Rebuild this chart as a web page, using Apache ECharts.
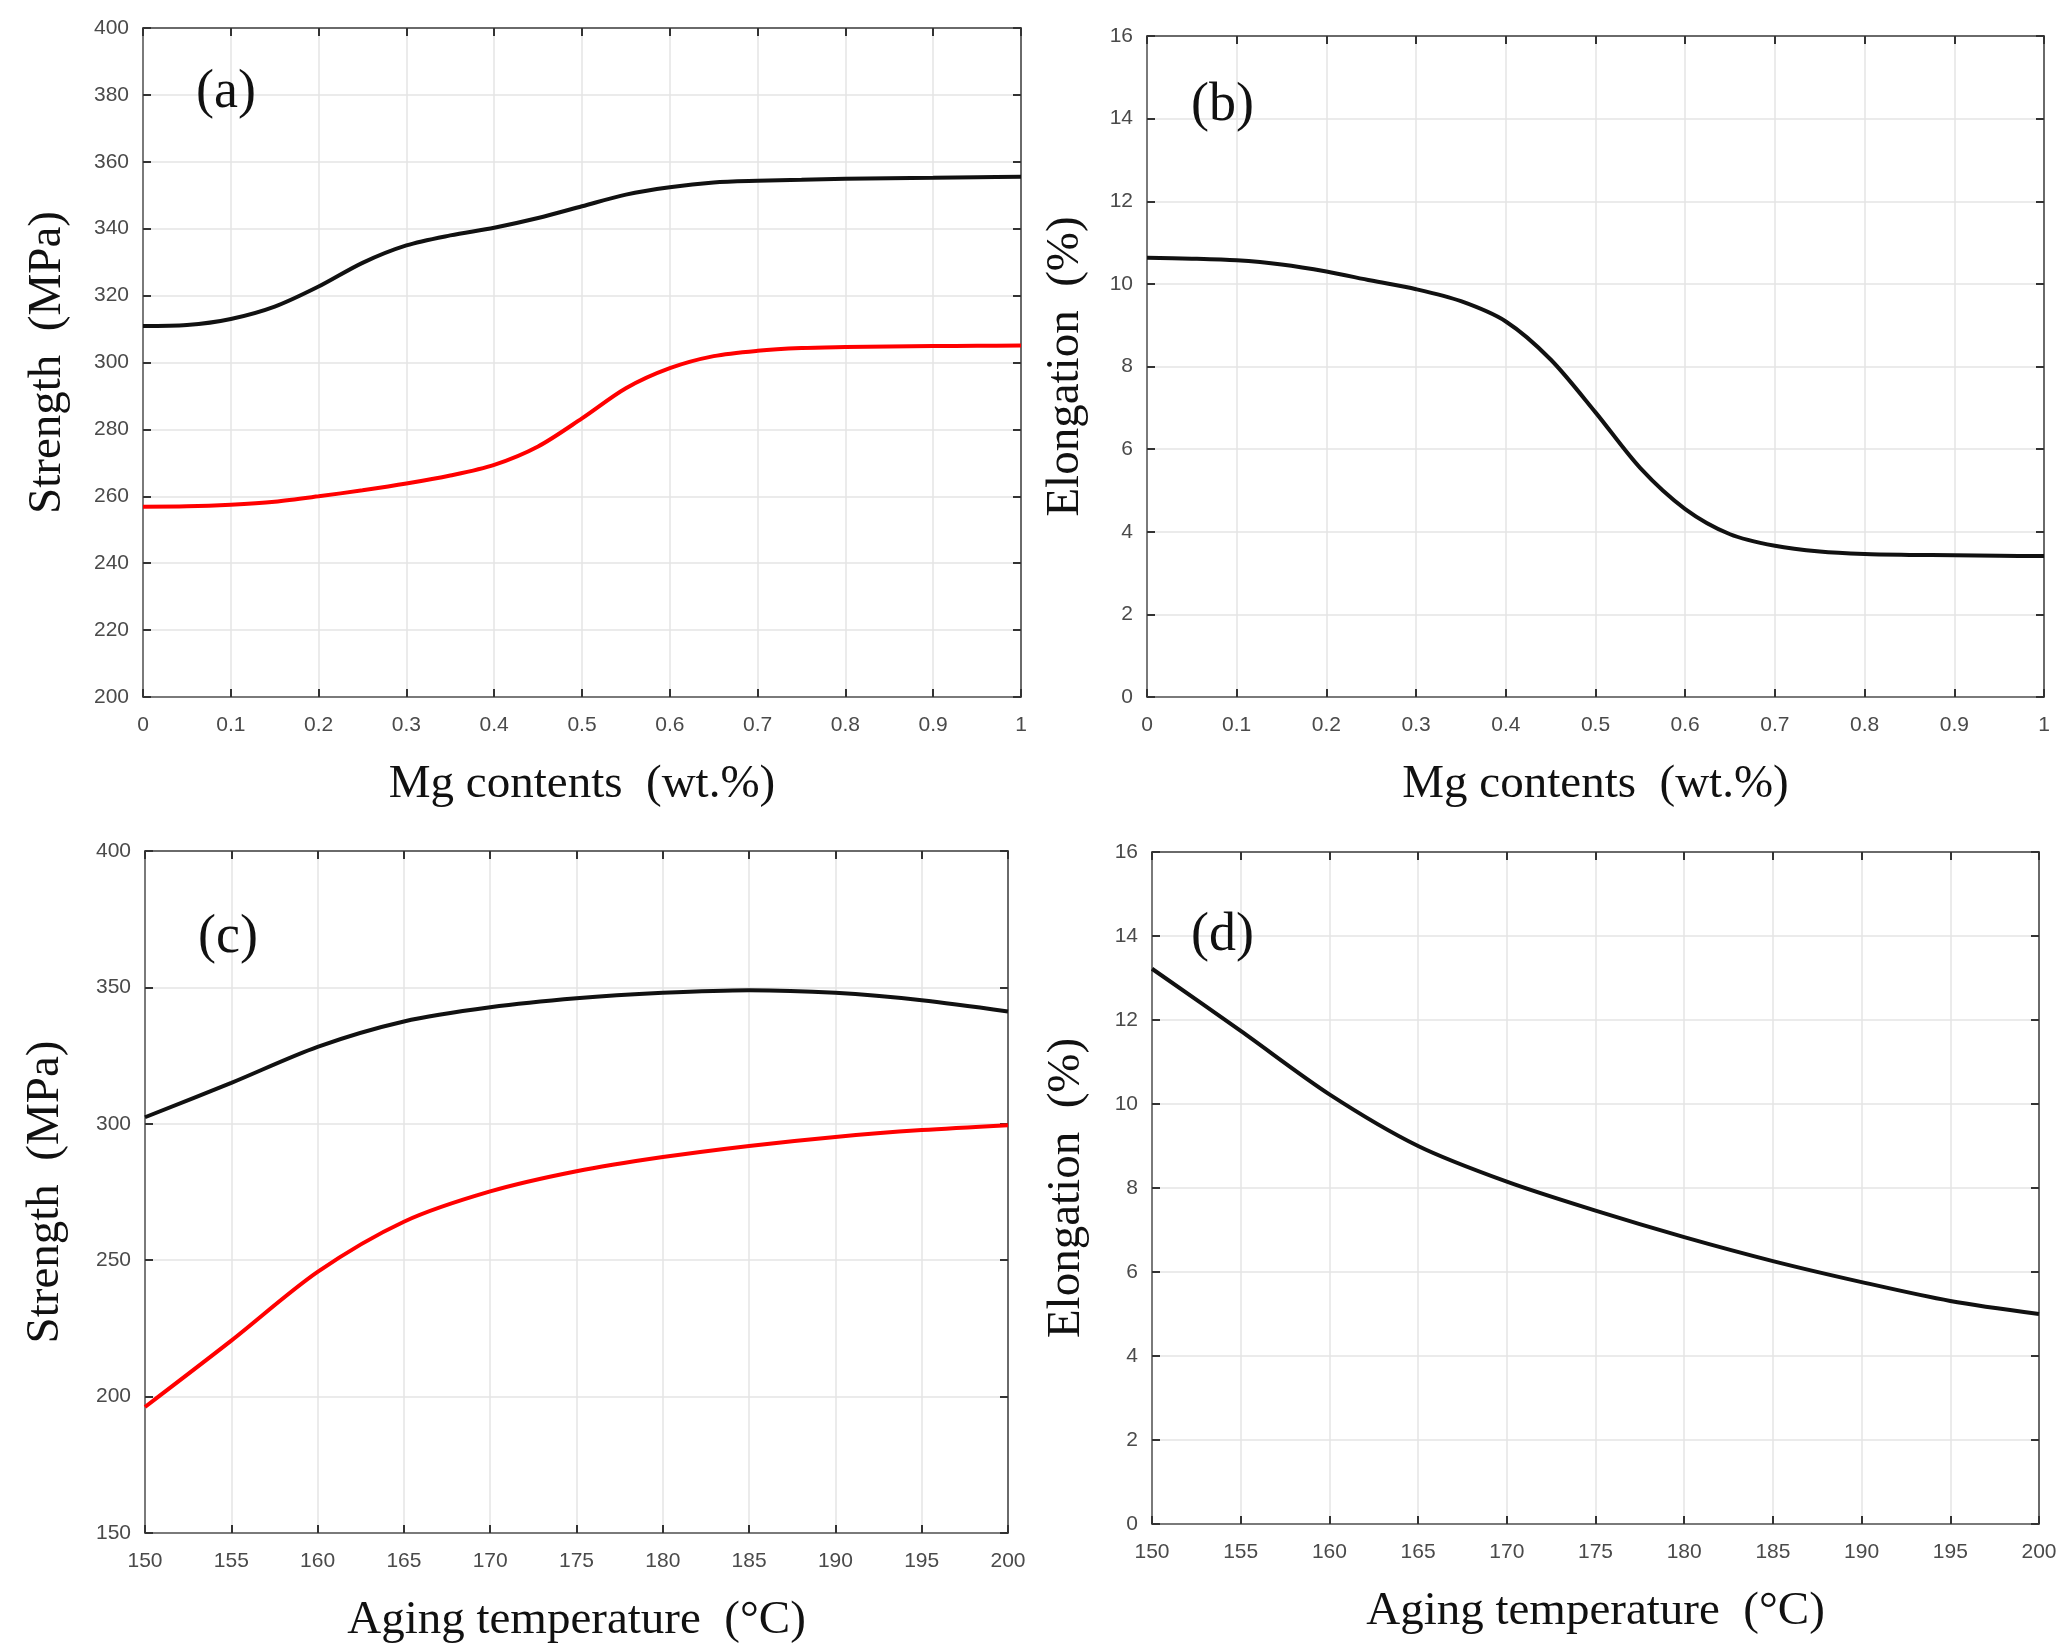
<!DOCTYPE html>
<html>
<head>
<meta charset="utf-8">
<title>Mg content / aging temperature</title>
<script src="https://cdn.jsdelivr.net/npm/echarts@6/dist/echarts.min.js"></script>
<style>
  html, body { margin: 0; padding: 0; background: #fff; }
  #main { width: 2063px; height: 1652px; }
</style>
</head>
<body>
<div id="main"></div>
<script>
// x values, panels (a)(b)
const mgContents = [0, 0.05, 0.1, 0.15, 0.2, 0.25, 0.3, 0.35, 0.4, 0.45, 0.5,
  0.55, 0.6, 0.65, 0.7, 0.75, 0.8, 0.85, 0.9, 0.95, 1.0];
// (a) strength, black and red curve
const mgStrengthBlack = [310.9, 311.2, 313.0, 316.7, 322.7, 329.8, 335.0, 338.0, 340.3, 343.2, 346.7,
  350.2, 352.4, 353.8, 354.3, 354.6, 354.9, 355.1, 355.2, 355.4, 355.5];
const mgStrengthRed = [256.9, 257.0, 257.5, 258.4, 260.0, 261.8, 263.8, 266.2, 269.4, 274.9, 283.3,
  292.3, 298.3, 301.9, 303.5, 304.3, 304.6, 304.8, 304.9, 305.0, 305.1];
// (b) elongation
const mgElongation = [10.63, 10.61, 10.57, 10.47, 10.30, 10.08, 9.87, 9.58, 9.09, 8.17, 6.89,
  5.54, 4.55, 3.94, 3.66, 3.52, 3.46, 3.44, 3.43, 3.42, 3.41];

// x values, panels (c)(d)
const agingTemps = [150, 155, 160, 165, 170, 175, 180, 185, 190, 195, 200];
const tempStrengthBlack = [302.4, 315.0, 328.2, 337.5, 342.7, 346.0, 348.0, 349.0, 348.0, 345.3, 341.2];
const tempStrengthRed = [196.2, 220.5, 245.7, 264.1, 275.2, 282.6, 287.8, 291.9, 295.2, 297.7, 299.5];
const tempElongation = [13.22, 11.74, 10.23, 9.00, 8.15, 7.46, 6.83, 6.26, 5.76, 5.31, 5.00];

// axis ranges [min, max, interval]
const mgRange = [0, 1, 0.1];
const tempRange = [150, 200, 5];
const strengthRangeA = [200, 400, 20];
const strengthRangeC = [150, 400, 50];
const elongRange = [0, 16, 2];

const panelNames = ['(a)', '(b)', '(c)', '(d)'];

const serif = '"Liberation Serif", "Times New Roman", serif';
const sans = '"Liberation Sans", Arial, sans-serif';

function pairs(xs, ys) {
  return xs.map((x, i) => [x, ys[i]]);
}

// bottom/left axis with labels + top/right mirror with only inner ticks
function makeAxis(gi, range, pos, name, nameGap) {
  const main = {
    type: 'value',
    gridIndex: gi,
    min: range[0],
    max: range[1],
    interval: range[2],
    position: pos,
    name: name,
    nameLocation: 'middle',
    nameGap: nameGap,
    nameTextStyle: { fontFamily: serif, fontSize: 47, color: '#111' },
    axisLine: { show: true, onZero: false, lineStyle: { color: '#7a7a7a', width: 2 } },
    axisTick: { show: true, inside: true, length: 8, lineStyle: { color: '#333', width: 2 } },
    axisLabel: { color: '#4a4a4a', fontSize: 21, fontFamily: sans, margin: pos == 'bottom' ? 18 : 14 },
    splitLine: { show: true, lineStyle: { color: '#e4e4e4', width: 1.5 } }
  };
  const mirror = {
    type: 'value',
    gridIndex: gi,
    min: range[0],
    max: range[1],
    interval: range[2],
    position: pos == 'bottom' ? 'top' : 'right',
    axisLine: { show: true, onZero: false, lineStyle: { color: '#6a6a6a', width: 2 } },
    axisTick: { show: true, inside: true, length: 8, lineStyle: { color: '#333', width: 2 } },
    axisLabel: { show: false },
    splitLine: { show: false }
  };
  return [main, mirror];
}

function line(gi, data, color) {
  return {
    type: 'line',
    xAxisIndex: gi * 2,
    yAxisIndex: gi * 2,
    data: data,
    showSymbol: false,
    smooth: 0.3,
    lineStyle: { color: color, width: 4 },
    itemStyle: { color: color },
    z: 5
  };
}

const grids = [
  { left: 143, top: 28, width: 878, height: 669 },
  { left: 1147, top: 36, width: 897, height: 661 },
  { left: 145, top: 851, width: 863, height: 682 },
  { left: 1152, top: 852, width: 887, height: 672 }
];

const xAxes = [].concat(
  makeAxis(0, mgRange, 'bottom', 'Mg contents  (wt.%)', 64),
  makeAxis(1, mgRange, 'bottom', 'Mg contents  (wt.%)', 64),
  makeAxis(2, tempRange, 'bottom', 'Aging temperature  (°C)', 64),
  makeAxis(3, tempRange, 'bottom', 'Aging temperature  (°C)', 64)
);
const yAxes = [].concat(
  makeAxis(0, strengthRangeA, 'left', 'Strength  (MPa)', 72),
  makeAxis(1, elongRange, 'left', 'Elongation  (%)', 58),
  makeAxis(2, strengthRangeC, 'left', 'Strength  (MPa)', 76),
  makeAxis(3, elongRange, 'left', 'Elongation  (%)', 62)
);

// panel letters
const labelPos = [[196, 66], [1191, 79], [198, 911], [1191, 909]];
const graphics = panelNames.map((t, i) => ({
  type: 'text',
  left: labelPos[i][0],
  top: labelPos[i][1],
  style: { text: t, font: '54px ' + serif, fill: '#111' },
  z: 10
}));

const chart = echarts.init(document.getElementById('main'));
chart.setOption({
  backgroundColor: '#fff',
  animation: false,
  grid: grids,
  xAxis: xAxes,
  yAxis: yAxes,
  graphic: graphics,
  series: [
    line(0, pairs(mgContents, mgStrengthBlack), '#111'),
    line(0, pairs(mgContents, mgStrengthRed), '#ff0000'),
    line(1, pairs(mgContents, mgElongation), '#111'),
    line(2, pairs(agingTemps, tempStrengthBlack), '#111'),
    line(2, pairs(agingTemps, tempStrengthRed), '#ff0000'),
    line(3, pairs(agingTemps, tempElongation), '#111')
  ]
});
</script>
</body>
</html>
